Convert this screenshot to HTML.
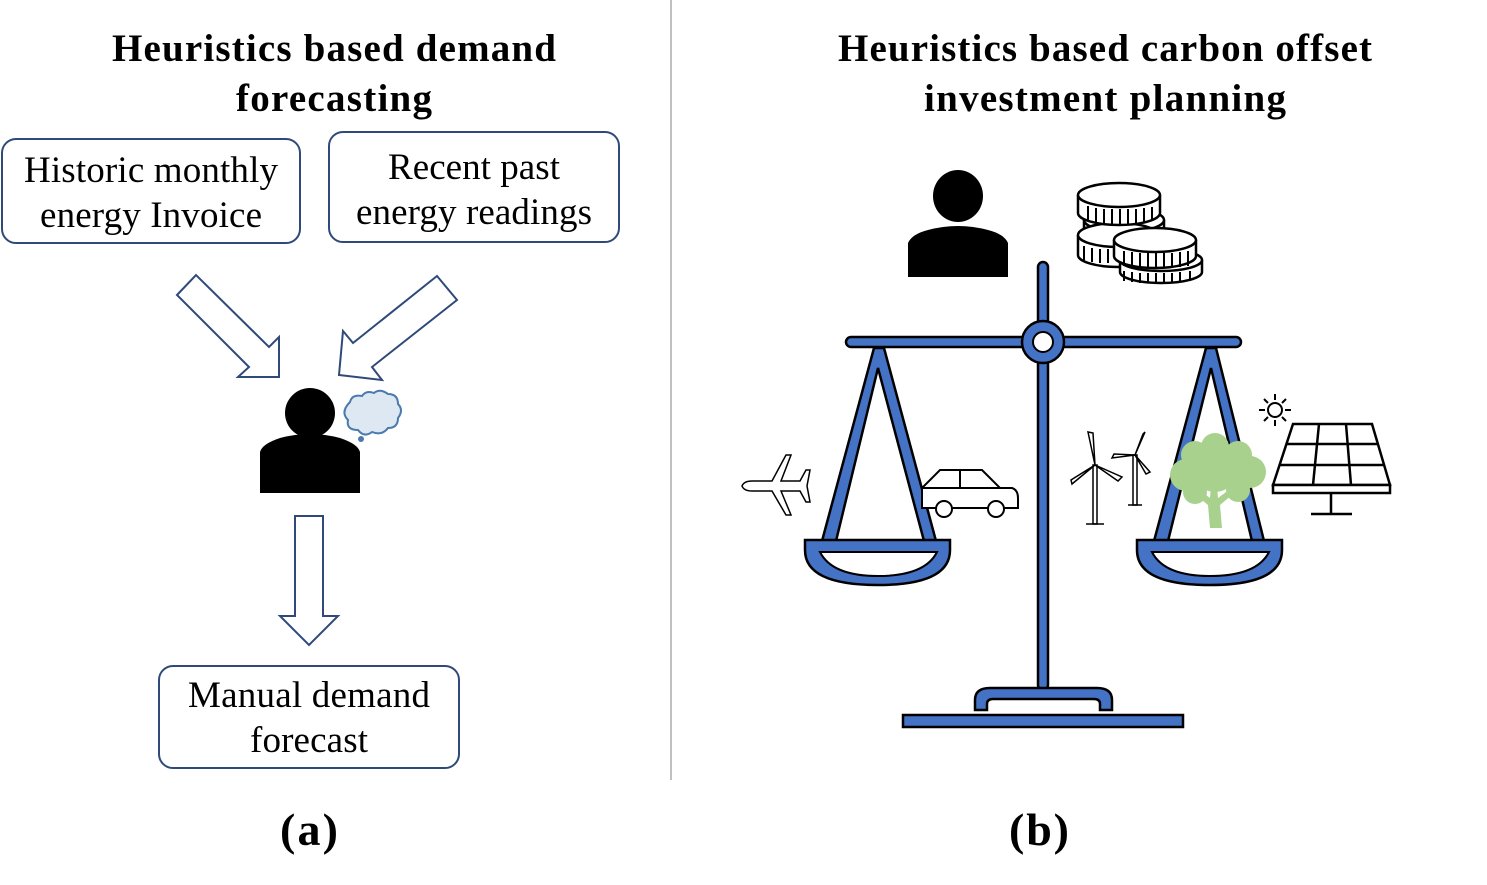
<!DOCTYPE html>
<html><head><meta charset="utf-8"><style>
html,body{margin:0;padding:0;background:#fff;}
svg{display:block;}
text{font-family:"Liberation Serif",serif;}
</style></head><body>
<svg width="1487" height="885" viewBox="0 0 1487 885" xmlns="http://www.w3.org/2000/svg">
<line x1="671" y1="0" x2="671" y2="780" stroke="#808080" stroke-width="1"/>
<g font-weight="bold" font-size="39" text-anchor="middle" fill="#000" lengthAdjust="spacingAndGlyphs">
<text x="334" y="61" textLength="444">Heuristics based demand</text>
<text x="334" y="111" textLength="196">forecasting</text>
<text x="1105" y="61" textLength="534">Heuristics based carbon offset</text>
<text x="1105" y="111" textLength="362">investment planning</text>
<text x="309" y="845" font-size="46" textLength="58">(a)</text>
<text x="1039" y="845" font-size="46" textLength="60">(b)</text>
</g>
<g fill="#fff" stroke="#2F4A7A" stroke-width="2">
<rect x="2" y="139" width="298" height="104" rx="14"/>
<rect x="329" y="132" width="290" height="110" rx="14"/>
<rect x="159" y="666" width="300" height="102" rx="14"/>
<polygon points="177,295 196,275 269,347 279,337 279,377 238,377 249,367"/>
<polygon points="437,276 457,300 372,367 382,380 339,375 343,331 353,343"/>
<polygon points="295,516 323,516 323,616 338,616 309,645 280,616 295,616"/>
</g>
<g font-size="37" text-anchor="middle" fill="#000" lengthAdjust="spacingAndGlyphs">
<text x="151" y="182" textLength="254">Historic monthly</text>
<text x="151" y="227" textLength="222">energy Invoice</text>
<text x="474" y="179" textLength="172">Recent past</text>
<text x="474" y="224" textLength="236">energy readings</text>
<text x="309" y="707" textLength="242">Manual demand</text>
<text x="309" y="752" textLength="118">forecast</text>
</g>
<!-- person a -->
<circle cx="310" cy="413" r="25" fill="#000"/>
<path d="M260,493 V452 Q262,444 280,438 Q310,430 340,438 Q358,444 360,452 V493 Z" fill="#000"/>
<!-- cloud -->
<path d="M350,402 Q352,394 362,396 Q366,390 374,393 Q380,388 388,394 Q398,394 398,404 Q404,410 398,418 Q398,428 388,428 Q382,436 372,432 Q364,438 358,430 Q346,430 348,420 Q340,412 350,402 Z" fill="#DDE8F3" stroke="#4A7AAE" stroke-width="2"/>
<circle cx="361" cy="439" r="3" fill="#4A7AAE"/>
<!-- person b -->
<ellipse cx="958" cy="196" rx="25" ry="26" fill="#000"/>
<path d="M908,277 V243 Q912,234 928,230 Q958,222 988,230 Q1004,234 1008,243 V277 Z" fill="#000"/>
<!-- coins -->
<g fill="#fff" stroke="#000" stroke-width="2.5">
<path d="M1084,220 v20 a40,12 0 0 0 80,0 v-20"/><ellipse cx="1124" cy="220" rx="40" ry="12"/>
<path d="M1078,235 v20 a40,12 0 0 0 80,0 v-20"/><ellipse cx="1118" cy="235" rx="40" ry="12"/>
<path d="M1078,195 v18 a41,12 0 0 0 82,0 v-18"/><ellipse cx="1119" cy="195" rx="41" ry="12"/>
<path d="M1120,260 v12 a41,11 0 0 0 82,0 v-12"/><ellipse cx="1161" cy="260" rx="41" ry="11"/>
<path d="M1114,240 v16 a41,12 0 0 0 82,0 v-16"/><ellipse cx="1155" cy="240" rx="41" ry="12"/>
</g>
<g stroke="#000" stroke-width="2">
<path d="M1088,206 v14 M1096,208 v15 M1104,209 v15 M1112,209 v15 M1120,209 v15 M1128,209 v15 M1136,209 v15 M1144,208 v15 M1152,207 v14"/>
<path d="M1124,251 v15 M1132,252 v15 M1140,253 v15 M1148,253 v15 M1156,253 v15 M1164,253 v15 M1172,253 v15 M1180,252 v15 M1188,251 v15"/>
<path d="M1124,271 v10 M1132,272 v10 M1140,273 v10 M1148,273 v10 M1156,273 v10 M1164,273 v10 M1172,273 v10 M1180,272 v10 M1190,271 v10"/>
<path d="M1084,246 v14 M1092,248 v14 M1100,249 v14 M1108,249 v14"/>
</g>
<!-- scale -->
<g fill="#4472C4" stroke="#000" stroke-width="2.5">
<rect x="1038" y="262" width="10" height="428" rx="5"/>
<path d="M975,710 V700 Q975,688 990,688 H1097 Q1112,688 1112,700 V710 H1100 V704 Q1100,699 1094,699 H993 Q987,699 987,704 V710 Z"/>
<rect x="903" y="715" width="280" height="12"/>
<rect x="846" y="337" width="395" height="10" rx="5"/>
<circle cx="1043" cy="342" r="21"/>
<polygon points="874,348 884,348 936,541 924,541 878,368 836,541 822,541"/>
<polygon points="1206,348 1216,348 1264,541 1252,541 1211,368 1168,541 1154,541"/>
<path d="M805,540 H950 V550 Q950,585 878,585 Q805,585 805,550 Z"/>
<path d="M1137,540 H1282 V550 Q1282,585 1210,585 Q1137,585 1137,550 Z"/>
</g>
<circle cx="1043" cy="342" r="10" fill="#fff" stroke="#000" stroke-width="2"/>
<g fill="#fff" stroke="#000" stroke-width="2">
<path d="M820,552 H937 Q925,576 878,576 Q832,576 820,552 Z"/>
<path d="M1152,552 H1269 Q1257,576 1210,576 Q1164,576 1152,552 Z"/>
</g>
<!-- plane -->
<path d="M742,486 Q744,481 752,481 H772 L786,455 H791 L781,481 H800 L806,470 H810 L807,486 L810,502 H806 L800,491 H781 L791,515 H786 L772,491 H752 Q744,491 742,486 Z" fill="#fff" stroke="#000" stroke-width="1.5"/>
<!-- car -->
<g fill="#fff" stroke="#000" stroke-width="2">
<path d="M922,508 V488 L940,470 H982 L1000,488 H1012 Q1018,490 1018,498 V508 Z"/>
<line x1="960" y1="470" x2="960" y2="488"/><line x1="922" y1="488" x2="1000" y2="488"/>
<circle cx="944" cy="509" r="8"/><circle cx="996" cy="509" r="8"/>
</g>
<!-- turbines -->
<g fill="#fff" stroke="#000" stroke-width="1.5">
<rect x="1093" y="465" width="4" height="59"/><line x1="1086" y1="524" x2="1104" y2="524"/>
<path d="M1095,465 L1088,432 L1093,433 Z M1095,465 L1122,477 L1118,481 Z M1095,465 L1072,484 L1071,480 Z"/>
<rect x="1133" y="455" width="4" height="50"/><line x1="1128" y1="505" x2="1142" y2="505"/>
<path d="M1135,455 L1145,432 L1143,434 Z M1135,455 L1150,472 L1146,474 Z M1135,455 L1112,458 L1114,454 Z"/>
</g>
<!-- tree -->
<g fill="#A9D18E">
<circle cx="1215" cy="447" r="14"/><circle cx="1195" cy="455" r="14"/><circle cx="1238" cy="455" r="14"/>
<circle cx="1186" cy="475" r="16"/><circle cx="1250" cy="472" r="16"/><circle cx="1215" cy="470" r="22"/>
<circle cx="1195" cy="492" r="12"/><circle cx="1238" cy="490" r="12"/>
<path d="M1210,528 H1222 L1220,505 L1238,490 L1234,486 L1218,498 L1216,475 H1212 L1210,498 L1194,486 L1190,490 L1208,505 Z"/>
</g>
<!-- sun -->
<g stroke="#000" stroke-width="2" fill="none">
<circle cx="1275" cy="410" r="7"/>
<path d="M1275,394 v6 M1275,420 v6 M1259,410 h6 M1285,410 h6 M1264,399 l4,4 M1282,417 l4,4 M1264,421 l4,-4 M1282,403 l4,-4"/>
</g>
<!-- solar panel -->
<g fill="#fff" stroke="#000" stroke-width="2.5">
<polygon points="1293,424 1372,424 1390,485 1273,485"/>
<rect x="1273" y="485" width="117" height="8"/>
<path d="M1319,424 L1313,485 M1346,424 L1351,485 M1287,444 H1378 M1280,465 H1384" fill="none"/>
<path d="M1331,493 V513 M1311,514 H1352" fill="none"/>
</g>
</svg>
</body></html>
